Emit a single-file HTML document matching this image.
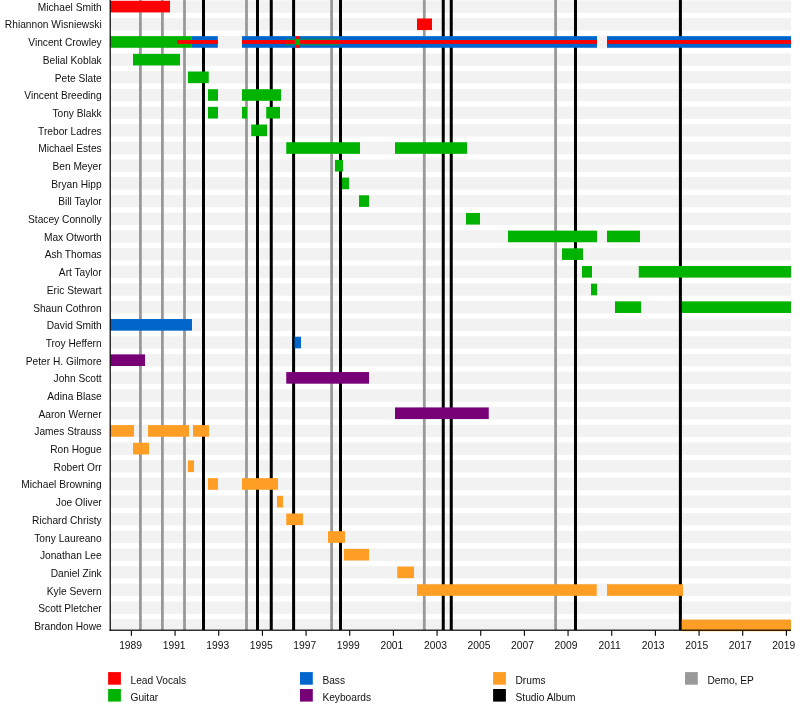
<!DOCTYPE html><html><head><meta charset="utf-8"><style>html,body{margin:0;padding:0;background:#fff}svg{display:block;will-change:transform}text{font-family:"Liberation Sans",sans-serif;fill:#111}</style></head><body>
<svg width="800" height="710" viewBox="0 0 800 710">
<rect width="800" height="710" fill="#fff"/>
<rect x="110" y="0.40" width="681" height="12.40" fill="#f2f2f2"/>
<rect x="110" y="18.08" width="681" height="12.40" fill="#f2f2f2"/>
<rect x="110" y="35.76" width="681" height="12.40" fill="#f2f2f2"/>
<rect x="110" y="53.44" width="681" height="12.40" fill="#f2f2f2"/>
<rect x="110" y="71.12" width="681" height="12.40" fill="#f2f2f2"/>
<rect x="110" y="88.80" width="681" height="12.40" fill="#f2f2f2"/>
<rect x="110" y="106.48" width="681" height="12.40" fill="#f2f2f2"/>
<rect x="110" y="124.16" width="681" height="12.40" fill="#f2f2f2"/>
<rect x="110" y="141.84" width="681" height="12.40" fill="#f2f2f2"/>
<rect x="110" y="159.52" width="681" height="12.40" fill="#f2f2f2"/>
<rect x="110" y="177.20" width="681" height="12.40" fill="#f2f2f2"/>
<rect x="110" y="194.88" width="681" height="12.40" fill="#f2f2f2"/>
<rect x="110" y="212.56" width="681" height="12.40" fill="#f2f2f2"/>
<rect x="110" y="230.24" width="681" height="12.40" fill="#f2f2f2"/>
<rect x="110" y="247.92" width="681" height="12.40" fill="#f2f2f2"/>
<rect x="110" y="265.60" width="681" height="12.40" fill="#f2f2f2"/>
<rect x="110" y="283.28" width="681" height="12.40" fill="#f2f2f2"/>
<rect x="110" y="300.96" width="681" height="12.40" fill="#f2f2f2"/>
<rect x="110" y="318.64" width="681" height="12.40" fill="#f2f2f2"/>
<rect x="110" y="336.32" width="681" height="12.40" fill="#f2f2f2"/>
<rect x="110" y="354.00" width="681" height="12.40" fill="#f2f2f2"/>
<rect x="110" y="371.68" width="681" height="12.40" fill="#f2f2f2"/>
<rect x="110" y="389.36" width="681" height="12.40" fill="#f2f2f2"/>
<rect x="110" y="407.04" width="681" height="12.40" fill="#f2f2f2"/>
<rect x="110" y="424.72" width="681" height="12.40" fill="#f2f2f2"/>
<rect x="110" y="442.40" width="681" height="12.40" fill="#f2f2f2"/>
<rect x="110" y="460.08" width="681" height="12.40" fill="#f2f2f2"/>
<rect x="110" y="477.76" width="681" height="12.40" fill="#f2f2f2"/>
<rect x="110" y="495.44" width="681" height="12.40" fill="#f2f2f2"/>
<rect x="110" y="513.12" width="681" height="12.40" fill="#f2f2f2"/>
<rect x="110" y="530.80" width="681" height="12.40" fill="#f2f2f2"/>
<rect x="110" y="548.48" width="681" height="12.40" fill="#f2f2f2"/>
<rect x="110" y="566.16" width="681" height="12.40" fill="#f2f2f2"/>
<rect x="110" y="583.84" width="681" height="12.40" fill="#f2f2f2"/>
<rect x="110" y="601.52" width="681" height="12.40" fill="#f2f2f2"/>
<rect x="110" y="619.20" width="681" height="10.80" fill="#f2f2f2"/>
<rect x="139.00" y="0" width="2.8" height="630" fill="#999999"/>
<rect x="161.00" y="0" width="2.8" height="630" fill="#999999"/>
<rect x="183.10" y="0" width="2.8" height="630" fill="#999999"/>
<rect x="245.10" y="0" width="2.8" height="630" fill="#999999"/>
<rect x="330.20" y="0" width="2.8" height="630" fill="#999999"/>
<rect x="422.90" y="0" width="2.8" height="630" fill="#999999"/>
<rect x="554.20" y="0" width="2.8" height="630" fill="#999999"/>
<rect x="202.00" y="0" width="3" height="630" fill="#000000"/>
<rect x="256.00" y="0" width="3" height="630" fill="#000000"/>
<rect x="269.75" y="0" width="3" height="630" fill="#000000"/>
<rect x="292.10" y="0" width="3" height="630" fill="#000000"/>
<rect x="339.00" y="0" width="3" height="630" fill="#000000"/>
<rect x="441.75" y="0" width="3" height="630" fill="#000000"/>
<rect x="449.75" y="0" width="3" height="630" fill="#000000"/>
<rect x="574.00" y="0" width="3" height="630" fill="#000000"/>
<rect x="678.90" y="0" width="3" height="630" fill="#000000"/>
<rect x="110.30" y="0.80" width="59.70" height="11.6" fill="#ff0000"/>
<rect x="417.00" y="18.48" width="15.00" height="11.6" fill="#ff0000"/>
<rect x="133.00" y="53.84" width="47.00" height="11.6" fill="#00b300"/>
<rect x="188.00" y="71.52" width="20.75" height="11.6" fill="#00b300"/>
<rect x="208.00" y="89.20" width="10.00" height="11.6" fill="#00b300"/>
<rect x="242.00" y="89.20" width="39.00" height="11.6" fill="#00b300"/>
<rect x="208.00" y="106.88" width="10.00" height="11.6" fill="#00b300"/>
<rect x="242.00" y="106.88" width="5.00" height="11.6" fill="#00b300"/>
<rect x="266.25" y="106.88" width="13.75" height="11.6" fill="#00b300"/>
<rect x="251.25" y="124.56" width="15.75" height="11.6" fill="#00b300"/>
<rect x="286.25" y="142.24" width="73.75" height="11.6" fill="#00b300"/>
<rect x="395.00" y="142.24" width="72.00" height="11.6" fill="#00b300"/>
<rect x="335.00" y="159.92" width="8.00" height="11.6" fill="#00b300"/>
<rect x="342.00" y="177.60" width="7.00" height="11.6" fill="#00b300"/>
<rect x="359.00" y="195.28" width="10.00" height="11.6" fill="#00b300"/>
<rect x="466.00" y="212.96" width="14.00" height="11.6" fill="#00b300"/>
<rect x="508.00" y="230.64" width="89.00" height="11.6" fill="#00b300"/>
<rect x="607.00" y="230.64" width="33.00" height="11.6" fill="#00b300"/>
<rect x="562.00" y="248.32" width="21.00" height="11.6" fill="#00b300"/>
<rect x="582.00" y="266.00" width="10.00" height="11.6" fill="#00b300"/>
<rect x="638.75" y="266.00" width="152.25" height="11.6" fill="#00b300"/>
<rect x="591.00" y="283.68" width="6.00" height="11.6" fill="#00b300"/>
<rect x="615.00" y="301.36" width="26.00" height="11.6" fill="#00b300"/>
<rect x="682.00" y="301.36" width="109.00" height="11.6" fill="#00b300"/>
<rect x="110.30" y="319.04" width="81.70" height="11.6" fill="#0066cc"/>
<rect x="294.50" y="336.72" width="6.50" height="11.6" fill="#0066cc"/>
<rect x="110.30" y="354.40" width="34.70" height="11.6" fill="#770077"/>
<rect x="286.25" y="372.08" width="82.75" height="11.6" fill="#770077"/>
<rect x="395.00" y="407.44" width="93.75" height="11.6" fill="#770077"/>
<rect x="110.30" y="425.12" width="23.70" height="11.6" fill="#ff9e24"/>
<rect x="148.00" y="425.12" width="41.00" height="11.6" fill="#ff9e24"/>
<rect x="193.00" y="425.12" width="16.00" height="11.6" fill="#ff9e24"/>
<rect x="133.00" y="442.80" width="16.00" height="11.6" fill="#ff9e24"/>
<rect x="188.00" y="460.48" width="6.00" height="11.6" fill="#ff9e24"/>
<rect x="208.00" y="478.16" width="10.00" height="11.6" fill="#ff9e24"/>
<rect x="242.00" y="478.16" width="36.00" height="11.6" fill="#ff9e24"/>
<rect x="277.00" y="495.84" width="6.00" height="11.6" fill="#ff9e24"/>
<rect x="286.25" y="513.52" width="16.75" height="11.6" fill="#ff9e24"/>
<rect x="328.00" y="531.20" width="17.00" height="11.6" fill="#ff9e24"/>
<rect x="344.00" y="548.88" width="25.00" height="11.6" fill="#ff9e24"/>
<rect x="397.25" y="566.56" width="16.75" height="11.6" fill="#ff9e24"/>
<rect x="417.00" y="584.24" width="179.75" height="11.6" fill="#ff9e24"/>
<rect x="607.00" y="584.24" width="76.00" height="11.6" fill="#ff9e24"/>
<rect x="681.75" y="619.60" width="109.25" height="11.6" fill="#ff9e24"/>
<rect x="110.3" y="36.16" width="81.00" height="11.6" fill="#00b300"/>
<rect x="191.3" y="36.16" width="26.50" height="11.6" fill="#0066cc"/>
<rect x="242" y="36.16" width="355.00" height="11.6" fill="#0066cc"/>
<rect x="607" y="36.16" width="184.00" height="11.6" fill="#0066cc"/>
<rect x="285.9" y="38.56" width="54.10" height="6.9" fill="#0a8a62"/>
<rect x="295.2" y="36.16" width="4.8" height="11.6" fill="#ff0000"/>
<rect x="177.2" y="40.06" width="40.60" height="3.8" fill="#ff0000"/>
<rect x="242" y="40.06" width="53.20" height="3.8" fill="#ff0000"/>
<rect x="300" y="40.06" width="297.00" height="3.8" fill="#ff0000"/>
<rect x="607" y="40.06" width="184.00" height="3.8" fill="#ff0000"/>
<rect x="295.2" y="38.96" width="4.8" height="6" fill="#00b300"/>
<rect x="109.6" y="0" width="1.2" height="630.8" fill="#000"/>
<rect x="109.6" y="629.6" width="681.4" height="1.2" fill="#000"/>
<rect x="130.85" y="630.5" width="1.1" height="5.3" fill="#000"/>
<text x="130.60" y="648.8" font-size="10.3" text-anchor="middle">1989</text>
<rect x="174.52" y="630.5" width="1.1" height="5.3" fill="#000"/>
<text x="174.15" y="648.8" font-size="10.3" text-anchor="middle">1991</text>
<rect x="218.18" y="630.5" width="1.1" height="5.3" fill="#000"/>
<text x="217.69" y="648.8" font-size="10.3" text-anchor="middle">1993</text>
<rect x="261.85" y="630.5" width="1.1" height="5.3" fill="#000"/>
<text x="261.24" y="648.8" font-size="10.3" text-anchor="middle">1995</text>
<rect x="305.51" y="630.5" width="1.1" height="5.3" fill="#000"/>
<text x="304.78" y="648.8" font-size="10.3" text-anchor="middle">1997</text>
<rect x="349.18" y="630.5" width="1.1" height="5.3" fill="#000"/>
<text x="348.33" y="648.8" font-size="10.3" text-anchor="middle">1999</text>
<rect x="392.85" y="630.5" width="1.1" height="5.3" fill="#000"/>
<text x="391.88" y="648.8" font-size="10.3" text-anchor="middle">2001</text>
<rect x="436.51" y="630.5" width="1.1" height="5.3" fill="#000"/>
<text x="435.42" y="648.8" font-size="10.3" text-anchor="middle">2003</text>
<rect x="480.18" y="630.5" width="1.1" height="5.3" fill="#000"/>
<text x="478.97" y="648.8" font-size="10.3" text-anchor="middle">2005</text>
<rect x="523.84" y="630.5" width="1.1" height="5.3" fill="#000"/>
<text x="522.51" y="648.8" font-size="10.3" text-anchor="middle">2007</text>
<rect x="567.51" y="630.5" width="1.1" height="5.3" fill="#000"/>
<text x="566.06" y="648.8" font-size="10.3" text-anchor="middle">2009</text>
<rect x="611.18" y="630.5" width="1.1" height="5.3" fill="#000"/>
<text x="609.61" y="648.8" font-size="10.3" text-anchor="middle">2011</text>
<rect x="654.84" y="630.5" width="1.1" height="5.3" fill="#000"/>
<text x="653.15" y="648.8" font-size="10.3" text-anchor="middle">2013</text>
<rect x="698.51" y="630.5" width="1.1" height="5.3" fill="#000"/>
<text x="696.70" y="648.8" font-size="10.3" text-anchor="middle">2015</text>
<rect x="742.17" y="630.5" width="1.1" height="5.3" fill="#000"/>
<text x="740.24" y="648.8" font-size="10.3" text-anchor="middle">2017</text>
<rect x="785.84" y="630.5" width="1.1" height="5.3" fill="#000"/>
<text x="783.79" y="648.8" font-size="10.3" text-anchor="middle">2019</text>
<text x="101.7" y="10.80" font-size="10.2" text-anchor="end">Michael Smith</text>
<text x="101.7" y="28.49" font-size="10.2" text-anchor="end">Rhiannon Wisniewski</text>
<text x="101.7" y="46.18" font-size="10.2" text-anchor="end">Vincent Crowley</text>
<text x="101.7" y="63.87" font-size="10.2" text-anchor="end">Belial Koblak</text>
<text x="101.7" y="81.56" font-size="10.2" text-anchor="end">Pete Slate</text>
<text x="101.7" y="99.25" font-size="10.2" text-anchor="end">Vincent Breeding</text>
<text x="101.7" y="116.94" font-size="10.2" text-anchor="end">Tony Blakk</text>
<text x="101.7" y="134.63" font-size="10.2" text-anchor="end">Trebor Ladres</text>
<text x="101.7" y="152.32" font-size="10.2" text-anchor="end">Michael Estes</text>
<text x="101.7" y="170.01" font-size="10.2" text-anchor="end">Ben Meyer</text>
<text x="101.7" y="187.70" font-size="10.2" text-anchor="end">Bryan Hipp</text>
<text x="101.7" y="205.39" font-size="10.2" text-anchor="end">Bill Taylor</text>
<text x="101.7" y="223.08" font-size="10.2" text-anchor="end">Stacey Connolly</text>
<text x="101.7" y="240.77" font-size="10.2" text-anchor="end">Max Otworth</text>
<text x="101.7" y="258.46" font-size="10.2" text-anchor="end">Ash Thomas</text>
<text x="101.7" y="276.15" font-size="10.2" text-anchor="end">Art Taylor</text>
<text x="101.7" y="293.84" font-size="10.2" text-anchor="end">Eric Stewart</text>
<text x="101.7" y="311.53" font-size="10.2" text-anchor="end">Shaun Cothron</text>
<text x="101.7" y="329.22" font-size="10.2" text-anchor="end">David Smith</text>
<text x="101.7" y="346.91" font-size="10.2" text-anchor="end">Troy Heffern</text>
<text x="101.7" y="364.60" font-size="10.2" text-anchor="end">Peter H. Gilmore</text>
<text x="101.7" y="382.29" font-size="10.2" text-anchor="end">John Scott</text>
<text x="101.7" y="399.98" font-size="10.2" text-anchor="end">Adina Blase</text>
<text x="101.7" y="417.67" font-size="10.2" text-anchor="end">Aaron Werner</text>
<text x="101.7" y="435.36" font-size="10.2" text-anchor="end">James Strauss</text>
<text x="101.7" y="453.05" font-size="10.2" text-anchor="end">Ron Hogue</text>
<text x="101.7" y="470.74" font-size="10.2" text-anchor="end">Robert Orr</text>
<text x="101.7" y="488.43" font-size="10.2" text-anchor="end">Michael Browning</text>
<text x="101.7" y="506.12" font-size="10.2" text-anchor="end">Joe Oliver</text>
<text x="101.7" y="523.81" font-size="10.2" text-anchor="end">Richard Christy</text>
<text x="101.7" y="541.50" font-size="10.2" text-anchor="end">Tony Laureano</text>
<text x="101.7" y="559.19" font-size="10.2" text-anchor="end">Jonathan Lee</text>
<text x="101.7" y="576.88" font-size="10.2" text-anchor="end">Daniel Zink</text>
<text x="101.7" y="594.57" font-size="10.2" text-anchor="end">Kyle Severn</text>
<text x="101.7" y="612.26" font-size="10.2" text-anchor="end">Scott Pletcher</text>
<text x="101.7" y="629.95" font-size="10.2" text-anchor="end">Brandon Howe</text>
<rect x="108.10" y="672.10" width="12.8" height="12.6" fill="#ff0000"/>
<text x="130.50" y="683.70" font-size="10.2">Lead Vocals</text>
<rect x="108.10" y="689.00" width="12.8" height="12.6" fill="#00b300"/>
<text x="130.50" y="700.60" font-size="10.2">Guitar</text>
<rect x="300.00" y="672.10" width="12.8" height="12.6" fill="#0066cc"/>
<text x="322.40" y="683.70" font-size="10.2">Bass</text>
<rect x="300.00" y="689.00" width="12.8" height="12.6" fill="#770077"/>
<text x="322.40" y="700.60" font-size="10.2">Keyboards</text>
<rect x="493.10" y="672.10" width="12.8" height="12.6" fill="#ff9e24"/>
<text x="515.50" y="683.70" font-size="10.2">Drums</text>
<rect x="493.10" y="689.00" width="12.8" height="12.6" fill="#000000"/>
<text x="515.50" y="700.60" font-size="10.2">Studio Album</text>
<rect x="685.00" y="672.10" width="12.8" height="12.6" fill="#999999"/>
<text x="707.40" y="683.70" font-size="10.2">Demo, EP</text>
</svg></body></html>
